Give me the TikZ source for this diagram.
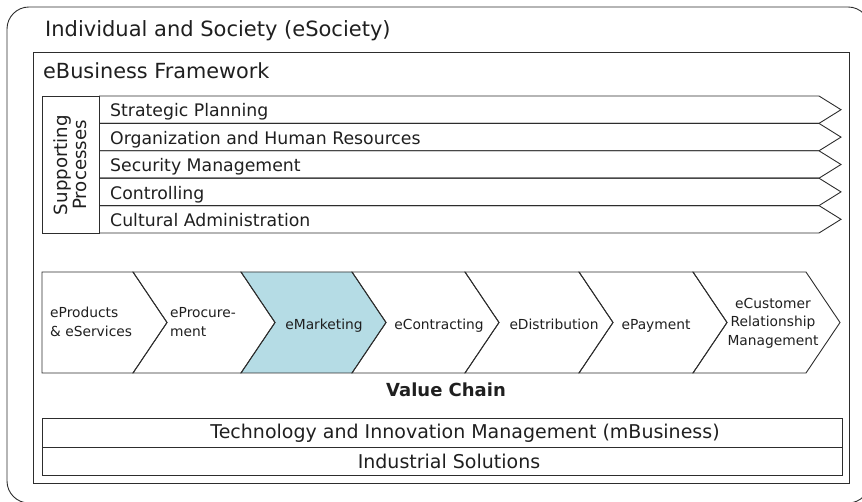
\documentclass[tikz,border=0pt]{standalone}
\usepackage{fontspec}
\setmainfont{DejaVu Sans}
\definecolor{framegray}{RGB}{45,45,45}
\definecolor{chainblue}{RGB}{181,220,229}
\tikzset{
  box/.style={draw=framegray, line width=0.9pt},
  lbl/.style={inner sep=0pt, text=black!88},
}
\begin{document}
\begin{tikzpicture}[x=1pt,y=-1pt]
  \useasboundingbox (0,0) rectangle (862,502);
  \clip (0,0) rectangle (862,502);
  % outer frames
  \draw[box, rounded corners=22pt] (7,7) rectangle (870,503);
  \node[lbl, anchor=base west, font=\fontsize{21}{24}\selectfont] (society) at (45,37) {Individual and Society (eSociety)};
  \draw[box] (33,52) rectangle (849,483);
  \node[lbl, anchor=base west, font=\fontsize{20.8}{24}\selectfont] (framework) at (43,79) {eBusiness Framework};
  % supporting processes
  \draw[box] (42,96) rectangle (99,233);
  \node[lbl, rotate=90, align=center, font=\fontsize{18.2}{19}\selectfont] (support) at (70,165) {Supporting\\Processes};
  \foreach \t [count=\i from 0] in {Strategic Planning, Organization and Human Resources, Security Management, Controlling, Cultural Administration} {
    \pgfmathsetmacro\ya{96+27.4*\i}
    \draw[box] (99,\ya) -- (819,\ya) -- (841,\ya+13.7) -- (819,\ya+27.4) -- (99,\ya+27.4);
    \node[lbl, anchor=base west, font=\fontsize{17.3}{19}\selectfont] (row\i) at (110,\ya+21) {\t};
  }
  % value chain
  \fill[chainblue] (241,272) -- (352,272) -- (386,322.5) -- (352,373) -- (241,373) -- (275,322.5) -- cycle;
  \draw[box] (42,272) -- (133,272) -- (167,322.5) -- (133,373) -- (42,373) -- cycle;
  \foreach \xa/\xb in {133/241, 241/352, 352/465, 465/579, 579/693, 693/806}
    \draw[box] (\xa,272) -- (\xb,272) -- (\xb+34,322.5) -- (\xb,373) -- (\xa,373) -- (\xa+34,322.5) -- cycle;
  \begin{scope}[every node/.style={lbl, font=\fontsize{13.8}{18.5}\selectfont}]
    \node[anchor=west, align=left] (products) at (50,322) {eProducts\\\& eServices};
    \node[anchor=west, align=left] (procure) at (170,322) {eProcure-\\ment};
    \node[anchor=base] (marketing) at (324,330) {eMarketing};
    \node[anchor=base] (contract) at (439,330) {eContracting};
    \node[anchor=base] (distrib) at (554,330) {eDistribution};
    \node[anchor=base] (payment) at (656,330) {ePayment};
    \node[align=center] (crm) at (773,323) {eCustomer\\Relationship\\Management};
  \end{scope}
  \node[lbl, font=\fontsize{18}{20}\bfseries] (chain) at (446,390) {Value Chain};
  % base layers
  \draw[box] (42,418) rectangle (842,447);
  \draw[box] (42,447) rectangle (842,475);
  \node[lbl, font=\fontsize{19}{20}\selectfont] (techno) at (465,433) {Technology and Innovation Management (mBusiness)};
  \node[lbl, font=\fontsize{19}{20}\selectfont] (industry) at (449,461) {Industrial Solutions};
\end{tikzpicture}
\end{document}
